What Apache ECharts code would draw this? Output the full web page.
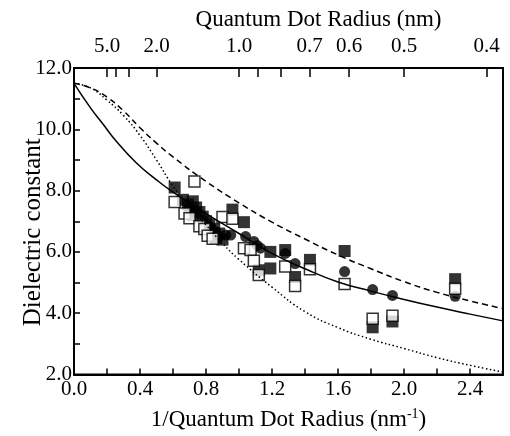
<!DOCTYPE html>
<html>
<head>
<meta charset="utf-8">
<script src="https://cdn.jsdelivr.net/npm/echarts@6/dist/echarts.min.js"></script>
<style>
  html, body { margin: 0; padding: 0; background: #fff; }
  #chart { width: 510px; height: 436px; }
</style>
</head>
<body>
<div id="chart"></div>
<script>
// tick labels
const xTicks = [0.0, 0.4, 0.8, 1.2, 1.6, 2.0, 2.4];
const yTicks = [2.0, 4.0, 6.0, 8.0, 10.0, 12.0];
const radiusTicks = [5.0, 4.0, 3.0, 2.0, 1.0, 0.9, 0.8, 0.7, 0.6, 0.5, 0.4];
const radiusLabels = [5.0, 2.0, 1.0, 0.7, 0.6, 0.5, 0.4];

// measured points [1/r, eps]
const filledSquares = [
  [0.61, 8.10], [0.66, 7.70], [0.69, 7.55], [0.72, 7.65], [0.70, 7.35],
  [0.74, 7.45], [0.76, 7.30], [0.78, 7.15], [0.72, 7.20], [0.80, 7.00],
  [0.82, 6.90], [0.85, 6.75], [0.88, 6.60], [0.86, 6.45], [0.90, 6.40],
  [0.96, 7.38], [1.03, 6.97], [1.19, 6.00], [1.28, 6.06], [1.19, 5.46],
  [1.12, 5.40], [1.34, 5.18], [1.43, 5.74], [1.64, 6.03], [1.81, 3.54],
  [1.93, 3.73], [2.31, 5.11]
];
const openSquares = [
  [0.61, 7.63], [0.73, 8.30], [0.67, 7.25], [0.70, 7.10], [0.76, 6.84],
  [0.79, 6.75], [0.81, 6.53], [0.84, 6.43], [0.90, 7.14], [0.96, 7.08],
  [1.03, 6.12], [1.07, 6.06], [1.09, 5.71], [1.12, 5.25], [1.28, 5.52],
  [1.34, 4.89], [1.43, 5.43], [1.64, 4.95], [1.81, 3.82], [1.93, 3.92],
  [2.31, 4.80]
];
const filledCircles = [
  [0.80, 6.90], [0.83, 6.80], [0.86, 6.65], [0.88, 6.50], [0.92, 6.55],
  [0.95, 6.55], [1.04, 6.50], [1.09, 6.34], [1.11, 6.21], [1.13, 6.12],
  [1.28, 5.95], [1.34, 5.62], [1.64, 5.36], [1.81, 4.77], [1.93, 4.58],
  [2.31, 4.55]
];

// model curves
const solidCurve = [
  [0, 11.5], [0.1, 10.7], [0.18, 10.14], [0.25, 9.65], [0.38, 8.89],
  [0.5, 8.35], [0.6, 7.95], [0.8, 7.25], [1.0, 6.6], [1.2, 5.95],
  [1.4, 5.45], [1.6, 5.02], [1.8, 4.72], [2.0, 4.45], [2.2, 4.2],
  [2.4, 3.97], [2.6, 3.75]
];
const dashedCurve = [
  [0, 11.5], [0.1, 11.35], [0.2, 11.05], [0.3, 10.6], [0.4, 10.05],
  [0.5, 9.55], [0.6, 9.1], [0.8, 8.3], [1.0, 7.6], [1.2, 6.97],
  [1.4, 6.42], [1.6, 5.9], [1.8, 5.45], [2.0, 5.03], [2.2, 4.68],
  [2.4, 4.4], [2.6, 4.15]
];
const dottedCurve = [
  [0, 11.5], [0.1, 11.35], [0.2, 10.95], [0.3, 10.45], [0.4, 9.8],
  [0.5, 9.0], [0.6, 8.15], [0.7, 7.5], [0.8, 6.88], [0.9, 6.28],
  [1.0, 5.75], [1.2, 4.85], [1.4, 4.05], [1.6, 3.53], [1.8, 3.15],
  [2.0, 2.85], [2.2, 2.55], [2.4, 2.3], [2.6, 2.08]
];

const font = "Liberation Serif";
const chart = echarts.init(document.getElementById("chart"));

const labelStyle = { color: "#000", fontFamily: font, fontSize: 21 };
const tickStyle = { color: "#000", width: 1.5 };

// show a label only where it belongs to the list of tick labels
const onList = (list, v) => list.some((t) => Math.abs(t - v) < 1e-6);

const option = {
  animation: false,
  grid: { left: 74, right: 7, top: 68, bottom: 50, show: true, borderColor: "#000", borderWidth: 2 },
  xAxis: [
    {
      type: "value", min: 0, max: 2.6, interval: 0.2,
      name: "1/Quantum Dot Radius (nm{sup|-1})",
      nameLocation: "middle", nameGap: 33,
      nameTextStyle: {
        color: "#000", fontFamily: font, fontSize: 23,
        rich: { sup: { fontFamily: font, fontSize: 14, verticalAlign: "top", padding: [0, 0, 10, 0] } }
      },
      axisLine: { show: true, lineStyle: { color: "#000", width: 2 } },
      axisTick: { show: true, inside: true, length: 6, lineStyle: tickStyle },
      axisLabel: {
        ...labelStyle, margin: 4, showMaxLabel: false,
        formatter: (v) => (onList(xTicks, v) ? v.toFixed(1) : "")
      },
      splitLine: { show: false }
    },
    {
      type: "value", min: 0, max: 2.6, position: "top",
      name: "Quantum Dot Radius (nm)",
      nameLocation: "middle", nameGap: 35,
      nameTextStyle: { color: "#000", fontFamily: font, fontSize: 23, padding: [0, 0, 0, 60] },
      axisLine: { show: true, lineStyle: { color: "#000", width: 2 } },
      axisTick: {
        show: true, inside: true, length: 9, lineStyle: tickStyle,
        customValues: radiusTicks.map((r) => 1 / r)
      },
      axisLabel: {
        ...labelStyle, margin: 11,
        customValues: radiusLabels.map((r) => 1 / r),
        formatter: (v) => (1 / v).toFixed(1)
      },
      splitLine: { show: false }
    }
  ],
  yAxis: {
    type: "value", min: 2, max: 12, interval: 1,
    name: "Dielectric constant",
    nameLocation: "middle", nameGap: 28, nameMoveOverlap: false,
    nameTextStyle: { color: "#000", fontFamily: font, fontSize: 25, padding: [0, 22, 0, 0] },
    axisLine: { show: true, lineStyle: { color: "#000", width: 2 } },
    axisTick: { show: true, inside: true, length: 6, lineStyle: tickStyle },
    axisLabel: {
      ...labelStyle, margin: 2,
      formatter: (v) => (onList(yTicks, v) ? v.toFixed(1) : "")
    },
    splitLine: { show: false }
  },
  series: [
    {
      type: "line", data: dashedCurve, smooth: true, symbol: "none",
      lineStyle: { color: "#000", width: 1.5, type: [6, 4] }
    },
    {
      type: "line", data: dottedCurve, smooth: true, symbol: "none",
      lineStyle: { color: "#000", width: 1.5, type: [1.5, 2.5] }
    },
    {
      type: "line", data: solidCurve, smooth: true, symbol: "none",
      lineStyle: { color: "#000", width: 1.5 }
    },
    {
      type: "scatter", data: filledSquares, symbol: "rect", symbolSize: 12,
      itemStyle: { color: "#000" }
    },
    {
      type: "scatter", data: filledCircles, symbol: "circle", symbolSize: 11,
      itemStyle: { color: "#000" }
    },
    {
      type: "scatter", data: openSquares, symbol: "rect", symbolSize: 11,
      itemStyle: { color: "#fff", borderColor: "#000", borderWidth: 1.5 }
    }
  ]
};

chart.setOption(option);
</script>
</body>
</html>
